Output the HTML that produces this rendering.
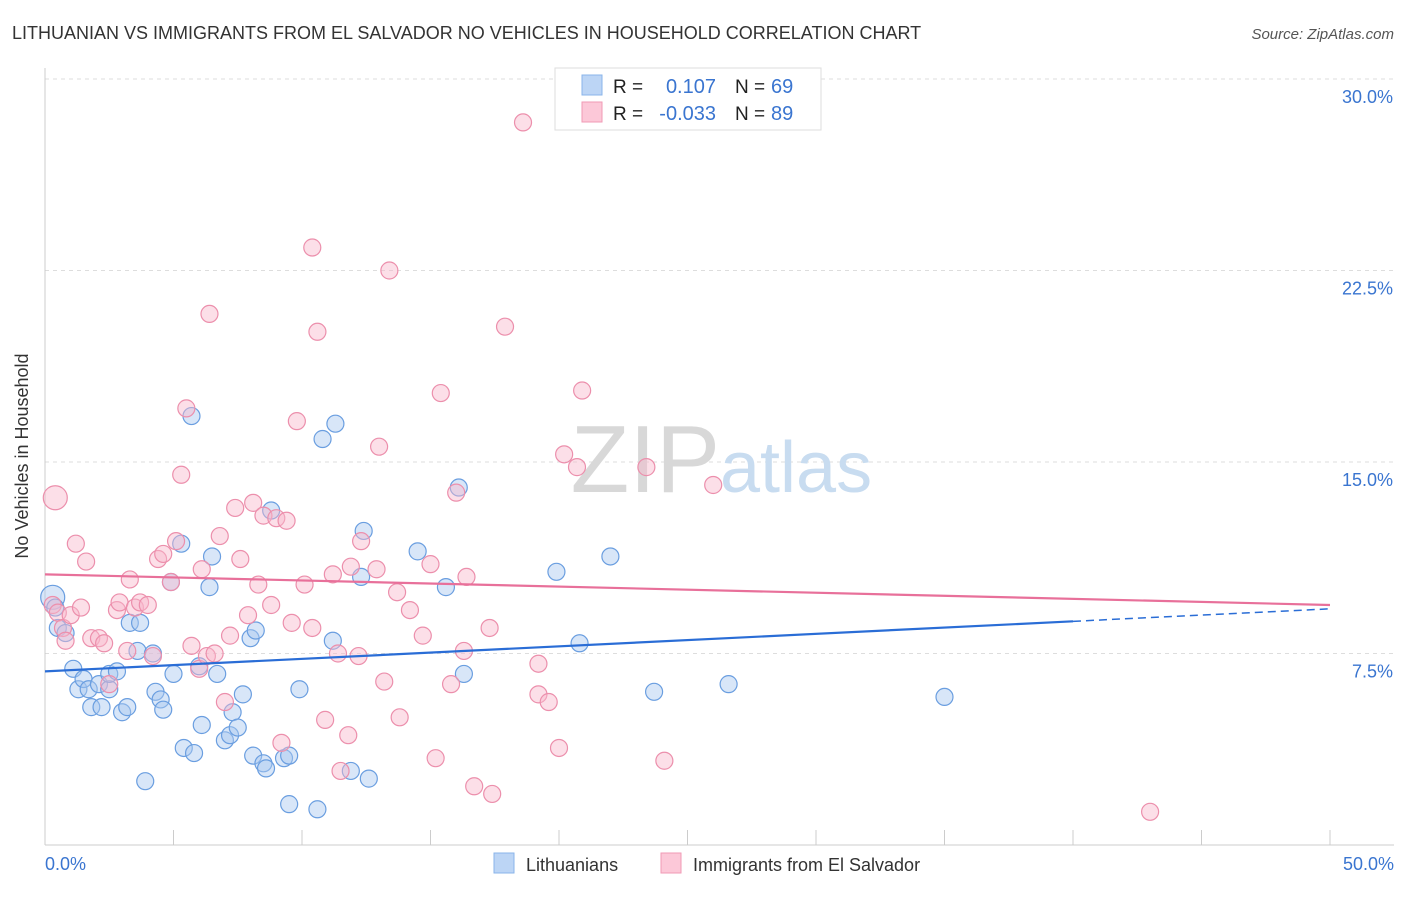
<!DOCTYPE html>
<html><head><meta charset="utf-8"><style>
body{margin:0;background:#fff;font-family:"Liberation Sans",sans-serif;}
svg text{font-family:"Liberation Sans",sans-serif;}
</style></head><body>
<svg id="c" width="1406" height="892" xmlns="http://www.w3.org/2000/svg">
<text x="12" y="39" font-size="18" fill="#333">LITHUANIAN VS IMMIGRANTS FROM EL SALVADOR NO VEHICLES IN HOUSEHOLD CORRELATION CHART</text>
<text x="1394" y="39" font-size="15" fill="#555" font-style="italic" text-anchor="end">Source: ZipAtlas.com</text>
<g id="grid"></g>
<text x="720" y="492" font-size="96" font-family="Liberation Serif" fill="#d8d8d8" text-anchor="end">ZIP</text>
<text x="720" y="492" font-size="72" fill="#c8dcf0">atlas</text>
<g id="pts"></g>
<g id="lines"></g>
<text x="28" y="456" font-size="18" fill="#333" text-anchor="middle" transform="rotate(-90 28 456)">No Vehicles in Household</text>
<text x="45" y="870" font-size="18" fill="#3a75d0">0.0%</text>
<text x="1394" y="870" font-size="18" fill="#3a75d0" text-anchor="end">50.0%</text>
<g>
<rect x="494" y="853" width="20" height="20" fill="#bcd5f5" stroke="#8ab4ea"/>
<text x="526" y="871" font-size="18" fill="#333">Lithuanians</text>
<rect x="661" y="853" width="20" height="20" fill="#fcc8d8" stroke="#f09ab5"/>
<text x="693" y="871" font-size="18" fill="#333">Immigrants from El Salvador</text>
</g>
<g>
<rect x="555" y="68" width="266" height="62" fill="#fff" stroke="#ddd"/>
<rect x="582" y="75" width="20" height="20" fill="#bcd5f5" stroke="#8ab4ea"/>
<rect x="582" y="102" width="20" height="20" fill="#fcc8d8" stroke="#f09ab5"/>
<text x="613" y="93" font-size="19" fill="#222">R =</text>
<text x="716" y="93" font-size="20" fill="#3a75d0" text-anchor="end">0.107</text>
<text x="735" y="93" font-size="19" fill="#222">N =</text>
<text x="771" y="93" font-size="20" fill="#3a75d0">69</text>
<text x="613" y="120" font-size="19" fill="#222">R =</text>
<text x="716" y="120" font-size="20" fill="#3a75d0" text-anchor="end">-0.033</text>
<text x="735" y="120" font-size="19" fill="#222">N =</text>
<text x="771" y="120" font-size="20" fill="#3a75d0">89</text>
</g>
</svg>
<script>
const yTicks=[7.5,15,22.5,30];
const yTickLabels=["7.5%","15.0%","22.5%","30.0%"];
const xTicks=[0,5,10,15,20,25,30,35,40,45,50];
const blueX=[0.3,0.4,0.5,0.8,1.1,1.3,1.5,1.7,1.8,2.1,2.2,2.5,2.5,2.8,3.0,3.2,3.3,3.6,3.7,3.9,4.2,4.3,4.5,4.6,4.9,5.0,5.3,5.4,5.7,5.8,6.0,6.1,6.4,6.5,6.7,7.0,7.2,7.3,7.5,7.7,8.0,8.1,8.2,8.5,8.6,8.8,9.3,9.5,9.5,9.9,10.6,10.8,11.3,11.2,11.9,12.3,12.4,12.6,14.5,15.6,16.1,16.3,19.9,20.8,22.0,23.7,26.6,35.0];
const blueY=[9.7,9.3,8.5,8.3,6.9,6.1,6.5,6.1,5.4,6.3,5.4,6.1,6.7,6.8,5.2,5.4,8.7,7.6,8.7,2.5,7.5,6.0,5.7,5.3,10.3,6.7,11.8,3.8,16.8,3.6,7.0,4.7,10.1,11.3,6.7,4.1,4.3,5.2,4.6,5.9,8.1,3.5,8.4,3.2,3.0,13.1,3.4,3.5,1.6,6.1,1.4,15.9,16.5,8.0,2.9,10.5,12.3,2.6,11.5,10.1,14.0,6.7,10.7,7.9,11.3,6.0,6.3,5.8];
const pinkX=[0.4,0.3,0.5,0.7,0.8,1.0,1.2,1.4,1.6,1.8,2.1,2.3,2.5,2.8,2.9,3.2,3.3,3.5,3.7,4.0,4.2,4.4,4.6,4.9,5.1,5.3,5.5,5.7,6.0,6.1,6.3,6.4,6.6,6.8,7.0,7.2,7.4,7.6,7.9,8.1,8.3,8.5,8.8,9.0,9.2,9.4,9.6,9.8,10.1,10.4,10.4,10.6,10.9,11.2,11.4,11.5,11.8,11.9,12.2,12.3,12.9,13.0,13.2,13.4,13.7,13.8,14.2,14.7,15.0,15.2,15.4,15.8,16.0,16.3,16.4,16.7,17.3,17.4,17.9,18.6,19.2,19.2,19.6,20.0,20.2,20.7,20.9,23.4,24.1,26.0,43.0];
const pinkY=[13.6,9.4,9.1,8.5,8.0,9.0,11.8,9.3,11.1,8.1,8.1,7.9,6.3,9.2,9.5,7.6,10.4,9.3,9.5,9.4,7.4,11.2,11.4,10.3,11.9,14.5,17.1,7.8,6.9,10.8,7.4,20.8,7.5,12.1,5.6,8.2,13.2,11.2,9.0,13.4,10.2,12.9,9.4,12.8,4.0,12.7,8.7,16.6,10.2,8.5,23.4,20.1,4.9,10.6,7.5,2.9,4.3,10.9,7.4,11.9,10.8,15.6,6.4,22.5,9.9,5.0,9.2,8.2,11.0,3.4,17.7,6.3,13.8,7.6,10.5,2.3,8.5,2.0,20.3,28.3,7.1,5.9,5.6,3.8,15.3,14.8,17.8,14.8,3.3,14.1,1.3];
const blueTrend=[6.8,9.25];
const pinkTrend=[10.6,9.4];
const X=v=>45+v*1285/50, Y=v=>845-v*766/30;
const NS="http://www.w3.org/2000/svg";
function mk(t,a,p){const e=document.createElementNS(NS,t);for(const k in a)e.setAttribute(k,a[k]);p.appendChild(e);return e;}
const grid=document.getElementById('grid'),pts=document.getElementById('pts'),lines=document.getElementById('lines');
yTicks.forEach((v,i)=>{
 const l=mk('line',{x1:45,x2:1394,y1:Y(v),y2:Y(v),stroke:'#ddd','stroke-dasharray':'4,4'},grid);
 
 
 const t=mk('text',{x:1393,y:Y(v)+24,'font-size':18,fill:'#3a75d0','text-anchor':'end'},grid);
 t.textContent=yTickLabels[i];
 
 
});
const ax=mk('line',{x1:45,x2:1394,y1:845,y2:845,stroke:'#ccc'},grid);


const ay=mk('line',{x1:45,x2:45,y1:68,y2:845,stroke:'#ccc'},grid);


xTicks.forEach(v=>{
 const t=mk('line',{x1:X(v),x2:X(v),y1:830,y2:845,stroke:'#ccc'},grid);
 
 
});
function dots(xs,ys,fill,stroke,name){
 xs.forEach((x,i)=>{
  const c=mk('circle',{cx:X(x),cy:Y(ys[i]),r:i==0?12:8.5,fill:fill,'fill-opacity':0.45,stroke:stroke,'stroke-width':1.2},pts);
  
  
 });
}
dots(blueX,blueY,'#a9c8f0','#6a9ee0','point-lithuanian');
dots(pinkX,pinkY,'#f8b8cc','#ec8fac','point-el-salvador');
const bxEnd=40;
const bAt=v=>blueTrend[0]+(blueTrend[1]-blueTrend[0])*v/50;
let l1=mk('line',{x1:X(0),y1:Y(bAt(0)),x2:X(bxEnd),y2:Y(bAt(bxEnd)),stroke:'#2a6dd6','stroke-width':2.2},lines);


let l2=mk('line',{x1:X(bxEnd),y1:Y(bAt(bxEnd)),x2:X(50),y2:Y(bAt(50)),stroke:'#2a6dd6','stroke-width':1.5,'stroke-dasharray':'8,5'},lines);


let l3=mk('line',{x1:X(0),y1:Y(pinkTrend[0]),x2:X(50),y2:Y(pinkTrend[1]),stroke:'#e8709a','stroke-width':2.2},lines);


</script>
</body></html>
